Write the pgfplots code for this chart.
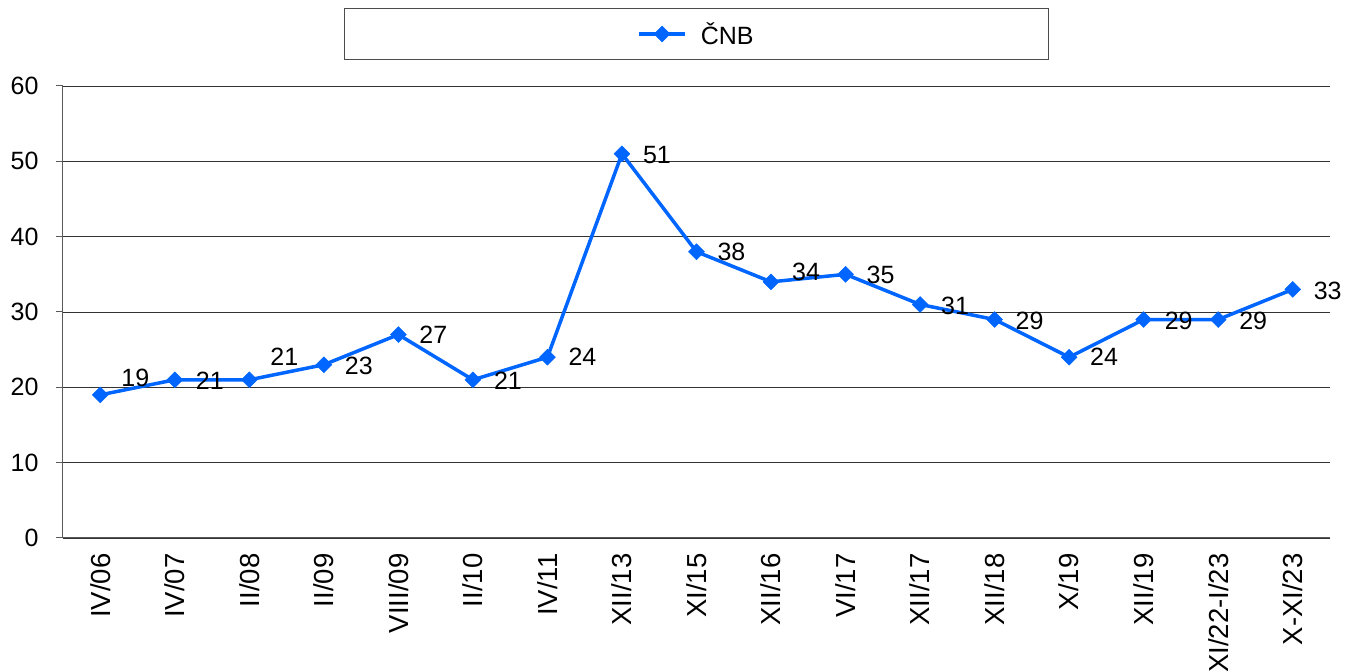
\documentclass[border=0pt]{standalone}
\usepackage{fontspec}
\setmainfont{Liberation Sans}
\usepackage{pgfplots}
\usepackage{pgfplotstable}
\pgfplotsset{compat=1.18}
\definecolor{cnbblue}{HTML}{0066FF}
\pgfplotstableread{
x y dy
0 19 17
1 21 -1
2 21 23
3 23 -1
4 27 0
5 21 -1
6 24 0
7 51 -1
8 38 0
9 34 10
10 35 -1
11 31 -1
12 29 -1
13 24 0
14 29 -1
15 29 -1
16 33 -1
}\data
\begin{document}
\begin{tikzpicture}[font=\fontsize{25}{30}\selectfont]
\begin{axis}[
  scale only axis,
  width=1267pt, height=452pt,
  xmin=-0.5, xmax=16.5, ymin=0, ymax=60,
  axis lines=left,
  axis line style={-, black!65, line width=1pt},
  clip=false,
  xtick={0,...,16},
  xticklabels={IV/06,IV/07,II/08,II/09,VIII/09,II/10,IV/11,XII/13,XI/15,XII/16,VI/17,XII/17,XII/18,X/19,XII/19,XI/22-I/23,X-XI/23},
  xtick style={draw=none},
  minor xtick={-0.5,0.5,...,16.5},
  minor tick length=7pt,
  major tick length=7pt,
  tick align=outside,
  tick style={black!65, line width=1pt},
  ytick={0,10,...,60},
  ymajorgrids,
  major grid style={black!80, line width=0.8pt},
  /pgf/number format/assume math mode=true,
  yticklabel style={xshift=-14pt},
  xticklabel style={yshift=-5pt, rotate=90, anchor=east, font=\fontsize{27.5}{32}\selectfont},
  legend style={at={(0.5,1)}, anchor=south, yshift=26pt,
    inner xsep=293pt, minimum height=47pt,
    draw=black!70, line width=1pt, font=\fontsize{25}{30}\selectfont},
  legend image code/.code={\draw[mark repeat=2,mark phase=2] plot coordinates {(0pt,0pt) (23pt,0pt) (46pt,0pt)};},
  nodes near coords,
  visualization depends on={\thisrow{dy} \as \dy},
  every node near coord/.append style={anchor=center, xshift=35pt, yshift=\dy pt, text=black, font=\fontsize{25}{30}\selectfont},
]
\coordinate (o) at (rel axis cs:0,0);
\addplot[color=cnbblue, line width=3.5pt, mark=square*, mark size=5.6pt,
  mark options={rotate=45, line width=0.5pt, fill=cnbblue}]
  table[x=x, y=y] {\data};
\addlegendentry{\hspace{12pt}ČNB}
\end{axis}
\pgfresetboundingbox
\path (o) ++(-63pt,-133pt) rectangle ++(1357pt,671pt);
\end{tikzpicture}
\end{document}
